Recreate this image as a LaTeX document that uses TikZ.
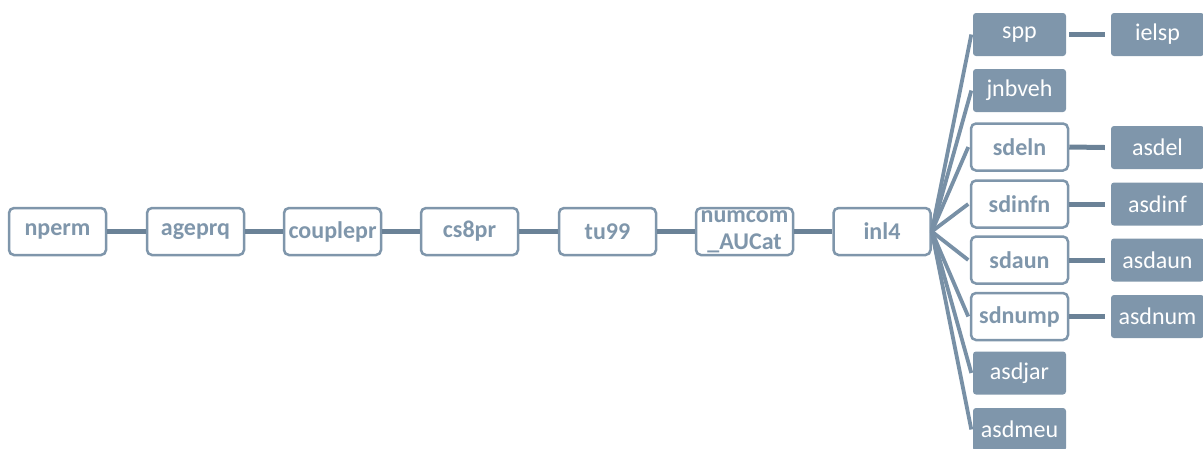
\documentclass[tikz,border=0pt]{standalone}
\usepackage{fontspec}
\setmainfont{Carlito}
\definecolor{bc}{HTML}{7F96AB}
\definecolor{lc}{HTML}{6B8297}
\definecolor{fc}{HTML}{7890A6}
\tikzset{
  mainbox/.style={draw=bc, line width=2.5pt, rounded corners=5pt, minimum width=97pt, minimum height=47pt,
    inner sep=0pt, align=center, text=bc, font=\fontsize{24}{26}\selectfont\bfseries, fill=white},
  fillbox/.style={fill=bc, rounded corners=3pt, minimum width=93pt, minimum height=43pt,
    inner sep=0pt, align=center, text=white, font=\fontsize{24}{26}\selectfont},
  mainlink/.style={draw=lc, line width=5pt},
  fanlink/.style={draw=fc, line width=3.8pt},
}
\begin{document}
\begin{tikzpicture}[x=1pt,y=-1pt]
\useasboundingbox (0,0) rectangle (1203,448);
% main row
\node[mainbox] (nperm) at (57.5,231.5) {nperm};
\node[mainbox] (ageprq) at (195.5,231.5) {ageprq};
\node[mainbox] (couplepr) at (332.5,231.5) {couplepr};
\node[mainbox] (cs8pr) at (469.5,231.5) {cs8pr};
\node[mainbox] (tu99) at (607.5,231.5) {tu99};
\node[mainbox, font=\fontsize{24}{27}\selectfont\bfseries] (numcom) at (744.5,231.5) {numcom\\\_AUCat};
\node[mainbox] (inl4) at (882,231.5) {inl4};
% column 2
\node[fillbox] (spp) at (1019.5,34.5) {spp};
\node[fillbox] (jnbveh) at (1019.5,90.5) {jnbveh};
\node[mainbox] (sdeln) at (1019.5,147) {sdeln};
\node[mainbox] (sdinfn) at (1019.5,204) {sdinfn};
\node[mainbox] (sdaun) at (1019.5,260) {sdaun};
\node[mainbox] (sdnump) at (1019.5,316.5) {sdnump};
\node[fillbox] (asdjar) at (1019.5,373) {asdjar};
\node[fillbox] (asdmeu) at (1019.5,429.5) {asdmeu};
% column 3
\node[fillbox] (ielsp) at (1157.5,34.5) {ielsp};
\node[fillbox] (asdel) at (1157.5,147.5) {asdel};
\node[fillbox] (asdinf) at (1157.5,204) {asdinf};
\node[fillbox] (asdaun) at (1157.5,260) {asdaun};
\node[fillbox] (asdnum) at (1157.5,316.5) {asdnum};
% main links
\draw[mainlink] (nperm.east) -- (ageprq.west);
\draw[mainlink] (ageprq.east) -- (couplepr.west);
\draw[mainlink] (couplepr.east) -- (cs8pr.west);
\draw[mainlink] (cs8pr.east) -- (tu99.west);
\draw[mainlink] (tu99.east) -- (numcom.west);
\draw[mainlink] (numcom.east) -- (inl4.west);
% fan
\foreach \c in {spp,jnbveh,sdeln,sdinfn,sdaun,sdnump,asdjar,asdmeu}
  \draw[fanlink] (inl4.east) -- ([xshift=-1.5pt]\c.west);
% column links
\draw[mainlink] ([xshift=3pt]spp.east) -- ([xshift=-6pt]ielsp.west);
\draw[mainlink] (sdeln.east) -- ([xshift=-6pt]asdel.west);
\draw[mainlink] (sdinfn.east) -- ([xshift=-6pt]asdinf.west);
\draw[mainlink] (sdaun.east) -- ([xshift=-6pt]asdaun.west);
\draw[mainlink] (sdnump.east) -- ([xshift=-6pt]asdnum.west);
\end{tikzpicture}
\end{document}
